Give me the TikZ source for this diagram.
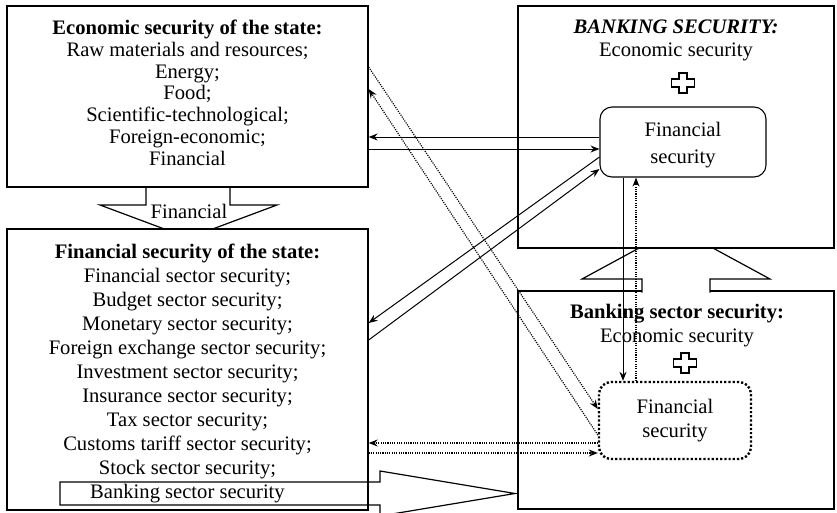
\documentclass[tikz,border=0pt]{standalone}
\usepackage{fontspec}
\setmainfont{Liberation Serif}
\usetikzlibrary{positioning,arrows.meta}

\tikzset{
	block/.style={draw, line width=1.3pt, fill=white, inner sep=0pt},
	secbox/.style={draw, line width=1.1pt, rounded corners=12pt, inner sep=0pt, align=center, font=\fontsize{20.6}{26.5}\selectfont},
	dotbox/.style={secbox, line width=2.4pt, dash pattern=on 2.2pt off 2pt, font=\fontsize{20.6}{24}\selectfont},
	link/.style={line width=1pt, -{Stealth[length=9pt,width=7pt,inset=3pt]}},
	dotlink/.style={link, line width=1.2pt, dash pattern=on 1.1pt off 1.2pt},
	txt/.style={inner sep=0pt, align=center, font=\fontsize{20.6}{21.8}\selectfont},
	hollow/.style={line width=1.2pt, line join=miter},
}

\begin{document}
\begin{tikzpicture}[x=1pt, y=-1pt]
			\useasboundingbox (0,0) rectangle (837,512);
			\filldraw[hollow, fill=white] (146,187) -- (146,205) -- (100,205) -- (188.5,238) -- (277,205) -- (230,205) -- (230,187);
			\node[block, minimum width=361pt, minimum height=181pt] (econ) at (187.5,96.5) {};
			\node[block, minimum width=361pt, minimum height=281pt] (fin) at (187.5,369.5) {};
			\node[txt, below=14.5pt of econ.north] (econtxt) {\textbf{Economic security of the state:}\\Raw materials and resources;\\Energy;\\Food;\\Scientific-technological;\\Foreign-economic;\\Financial};
			\node[txt, anchor=base] (finlbl) at (189,218.3) {Financial};
			\node[txt, font=\fontsize{20.6}{24}\selectfont, below=15.5pt of fin.north] (fintxt) {\textbf{Financial security of the state:}\\Financial sector security;\\Budget sector security;\\Monetary sector security;\\Foreign exchange sector security;\\Investment sector security;\\Insurance sector security;\\Tax sector security;\\Customs tariff sector security;\\Stock sector security;\\Banking sector security};
			\draw[hollow] (60,482) -- (380,482) -- (380,471) -- (515,493.5) -- (380,516) -- (380,505) -- (60,505) -- cycle;
			% banking side
			\node[block, minimum width=316pt, minimum height=218pt] (bsec) at (676,400) {};
			\filldraw[hollow, fill=white] (642,292.5) -- (642,279) -- (582,279) -- (676,228) -- (770,279) -- (710,279) -- (710,292.5);
			\node[block, minimum width=316pt, minimum height=242pt] (bank) at (676,127) {};
			\node[txt, font=\fontsize{20.6}{22.7}\selectfont, below=14.5pt of bank.north] (banktxt) {\textbf{\textit{BANKING SECURITY:}}\\Economic security};
			\node[txt, font=\fontsize{20.6}{24}\selectfont, below=13.5pt of bsec.north, xshift=1pt] (bsectxt) {\textbf{Banking sector security:}\\Economic security};
			\foreach \cx/\cy in {683/83, 685/363}
				\draw[line width=1.1pt, shift={(\cx,\cy)}] (-4,-10) -- (4,-10) -- (4,-4) -- (11.5,-4) -- (11.5,4) -- (4,4) -- (4,10) -- (-4,10) -- (-4,4) -- (-11.5,4) -- (-11.5,-4) -- (-4,-4) -- cycle;
			\node[secbox, minimum width=166pt, minimum height=70pt] (finA) at (683,142) {};
			\node[txt, font=\fontsize{20.6}{26.5}\selectfont] (finAtxt) at (683,145) {Financial\\security};
			\node[dotbox, minimum width=152pt, minimum height=77pt] (finB) at (675,420.5) {Financial\\security};
			% connectors
			\draw[link] (finA.west |- 0,137) -- (econ.east |- 0,137);
			\draw[link] (econ.east |- 0,149) -- (finA.west |- 0,149);
			\draw[link] (finA.west |- 0,157) -- (fin.east |- 0,323);
			\draw[link] (fin.east |- 0,340) -- (finA.west |- 0,169);
			\draw[dotlink] (econ.east |- 0,67) -- (finB.west |- 0,409);
			\draw[dotlink] (finB.west |- 0,435) -- (econ.east |- 0,89);
			\draw[dotlink] (finB.west |- 0,443) -- (fin.east |- 0,443);
			\draw[dotlink] (fin.east |- 0,453) -- (finB.west |- 0,453);
			\draw[link] (finA.south -| 623,0) -- (finB.north -| 623,0);
			\draw[dotlink] (finB.north -| 636,0) -- (finA.south -| 636,0);
		\end{tikzpicture}
\end{document}
